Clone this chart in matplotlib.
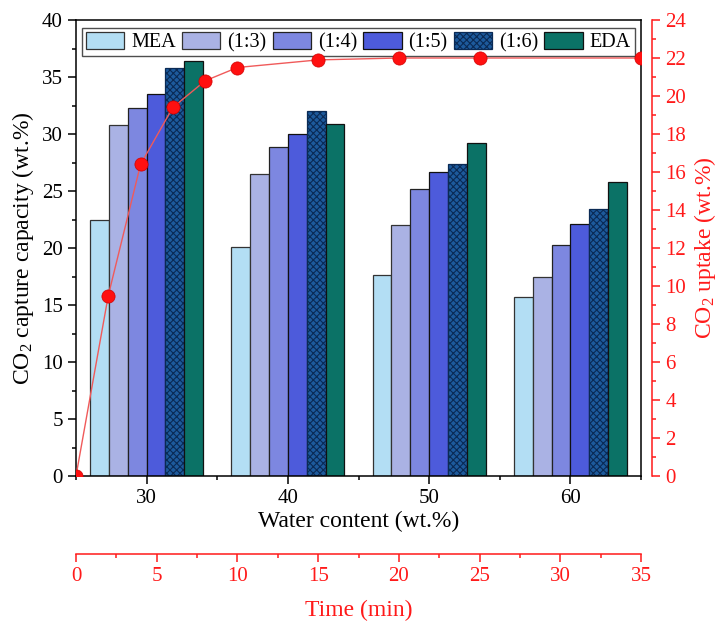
import matplotlib
matplotlib.use("Agg")
import matplotlib.pyplot as plt
from matplotlib.ticker import MultipleLocator
import numpy as np

plt.rcParams['font.family'] = ['Liberation Serif', 'DejaVu Serif']
plt.rcParams['mathtext.fontset'] = 'custom'
plt.rcParams['mathtext.rm'] = 'Liberation Serif'
plt.rcParams['mathtext.it'] = 'Liberation Serif:italic'
plt.rcParams['hatch.linewidth'] = 0.8

water_content = [30, 40, 50, 60]
series_names = ['MEA', '(1:3)', '(1:4)', '(1:5)', '(1:6)', 'EDA']
capacity = {
    'MEA':   [22.5, 20.1, 17.6, 15.7],
    '(1:3)': [30.8, 26.5, 22.0, 17.5],
    '(1:4)': [32.3, 28.9, 25.2, 20.3],
    '(1:5)': [33.5, 30.0, 26.7, 22.1],
    '(1:6)': [35.8, 32.0, 27.4, 23.4],
    'EDA':   [36.4, 30.9, 29.2, 25.8],
}
time_min = [0, 2, 4, 6, 8, 10, 15, 20, 25, 35]
uptake = [0.0, 9.5, 16.4, 19.4, 20.8, 21.5, 21.9, 22.0, 22.0, 22.0]

face = ['#b3def4', '#aab2e4', '#7d87e0', '#4d5bdb', '#1d5a9c', '#0b7266']
edge = ['#333333', '#333333', '#222222', '#111111', '#0a2a55', '#111111']
hatches = [None, None, None, None, 'xxxxx', None]

fig = plt.figure(figsize=(7.19, 6.25), dpi=100)
pos = [76/719, 1-476/625, (641-76)/719, (476-20)/625]
ax = fig.add_axes(pos)

w = 8/6
x = np.array(water_content, dtype=float)
for i, name in enumerate(series_names):
    ax.bar(x + (i-2.5)*w, capacity[name], width=w, color=face[i],
           edgecolor=edge[i], linewidth=0.9, hatch=hatches[i], label=name, zorder=2)

ax.set_xlim(25, 65)
ax.set_ylim(0, 40)
ax.xaxis.set_major_locator(MultipleLocator(10))
ax.xaxis.set_minor_locator(MultipleLocator(5))
ax.yaxis.set_major_locator(MultipleLocator(5))
ax.yaxis.set_minor_locator(MultipleLocator(2.5))
ax.tick_params(which='major', direction='out', length=6, width=1.1, labelsize=15)
ax.tick_params(which='minor', direction='out', length=3, width=1.1)
ax.tick_params(axis='y', right=False)
for s in ax.spines.values():
    s.set_linewidth(1.1)
ax.set_xlabel('Water content (wt.%)', fontsize=17, labelpad=2)
ax.set_ylabel('CO$_2$ capture capacity (wt.%)', fontsize=17, labelpad=4)

leg = ax.legend(loc='upper center', ncol=6, bbox_to_anchor=(0.5, 0.992),
                fontsize=14.5, frameon=True, fancybox=False, edgecolor='#222222',
                handlelength=1.9, handleheight=0.95, handletextpad=0.35,
                columnspacing=0.3, borderpad=0.2, borderaxespad=0.2)
leg.get_frame().set_linewidth(1.0)

ax2 = fig.add_axes(pos)
ax2.patch.set_visible(False)
ax2.plot(time_min, uptake, color='#f05a5a', linewidth=1.0, marker='o',
         markersize=9.5, markerfacecolor='#ff1010', markeredgecolor='#d00000',
         markeredgewidth=0.5, zorder=5)
ax2.set_xlim(0, 35)
ax2.set_ylim(0, 24)
for k in ['top', 'left']:
    ax2.spines[k].set_visible(False)
ax2.spines['right'].set_position(('outward', 8))
ax2.spines['bottom'].set_position(('outward', 56))
red = '#ff1a1a'
for k in ['right', 'bottom']:
    ax2.spines[k].set_color(red)
    ax2.spines[k].set_linewidth(1.1)
ax2.yaxis.tick_right()
ax2.yaxis.set_label_position('right')
ax2.yaxis.set_major_locator(MultipleLocator(2))
ax2.yaxis.set_minor_locator(MultipleLocator(1))
ax2.xaxis.set_major_locator(MultipleLocator(5))
ax2.xaxis.set_minor_locator(MultipleLocator(2.5))
ax2.tick_params(which='both', colors=red, labelcolor=red, width=1.1)
ax2.tick_params(which='major', direction='out', length=6, labelsize=15)
ax2.tick_params(which='minor', direction='out', length=3)
ax2.set_ylabel('CO$_2$ uptake (wt.%)', fontsize=17, color=red, labelpad=4)
ax2.set_xlabel('Time (min)', fontsize=17, color=red, labelpad=10)

fig.savefig('out.png', dpi=100)
